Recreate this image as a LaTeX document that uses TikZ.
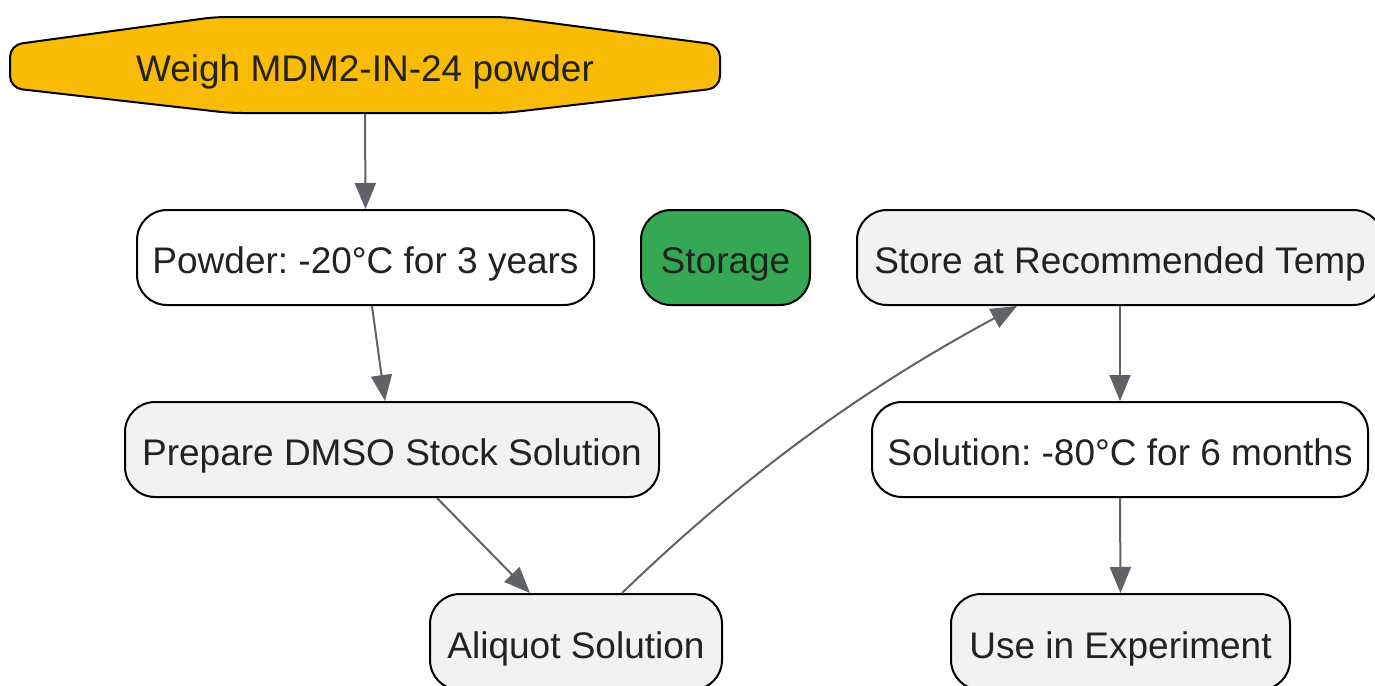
\documentclass[tikz,border=0pt]{standalone}
\usepackage{fontspec}
\setmainfont{Liberation Sans}
\frenchspacing
\usetikzlibrary{arrows.meta,calc}
\definecolor{yel}{HTML}{F9BC06}
\definecolor{grn}{HTML}{34A853}
\definecolor{lgray}{HTML}{F1F2F4}
\definecolor{txt}{HTML}{222222}
\definecolor{arr}{HTML}{5F6368}
\tikzset{
  box/.style={draw=black, line width=1pt, rounded corners=15pt, minimum height=47.5pt,
    inner sep=0pt, text height=16pt, text depth=0pt, text=txt,
    font=\fontsize{18.5pt}{22pt}\selectfont\frenchspacing},
  conn/.style={draw=arr, line width=1pt, -{Triangle[length=13pt,width=10.5pt]}},
}
\begin{document}
\begin{tikzpicture}[x=0.5pt,y=-0.5pt]
\clip (0,0) rectangle (1375,685);
\fill[white] (0,0) rectangle (1375,685);
% hexagon start node
\filldraw[fill=yel, draw=black, line width=1pt, rounded corners=6pt]
  (215,17) -- (505,17) -- (720,45) -- (720,88) -- (505,113) -- (230,113) -- (10,88) -- (10,45) -- cycle;
\node[box, draw=none, rounded corners=0pt, minimum width=355pt, minimum height=48pt] (w) at (365,65) {Weigh MDM2-IN-24 powder};
\node[box, fill=white, minimum width=228.5pt] (p) at (365.5,257.5) {Powder: -20°C for 3 years};
\node[box, fill=grn, minimum width=84.5pt] (s) at (725.5,257.5) {Storage};
\node[box, fill=lgray, minimum width=263pt] (st) at (1120,257.5) {Store at Recommended Temp};
\node[box, fill=lgray, minimum width=267pt] (d) at (392,449.5) {Prepare DMSO Stock Solution};
\node[box, fill=white, minimum width=248pt] (so) at (1120,449.5) {Solution: -80°C for 6 months};
\node[box, fill=lgray, minimum width=146pt, minimum height=48pt] (a) at (576,642) {Aliquot Solution};
\node[box, fill=lgray, minimum width=169.5pt, minimum height=48pt] (u) at (1120.5,642) {Use in Experiment};
% connectors
\draw[conn] (w.south) -- (p.north);
\draw[conn] ([xshift=3.25pt]p.south) -- ([xshift=-3.5pt]d.north);
\draw[conn] ([xshift=22.5pt]d.south) -- ([xshift=-23pt]a.north);
\draw[conn] ([xshift=23pt]a.north) .. controls (760,460) and (880,380) .. ([xshift=-51.5pt]st.south);
\draw[conn] (st.south) -- (so.north);
\draw[conn] (so.south) -- (u.north);
\end{tikzpicture}
\end{document}
